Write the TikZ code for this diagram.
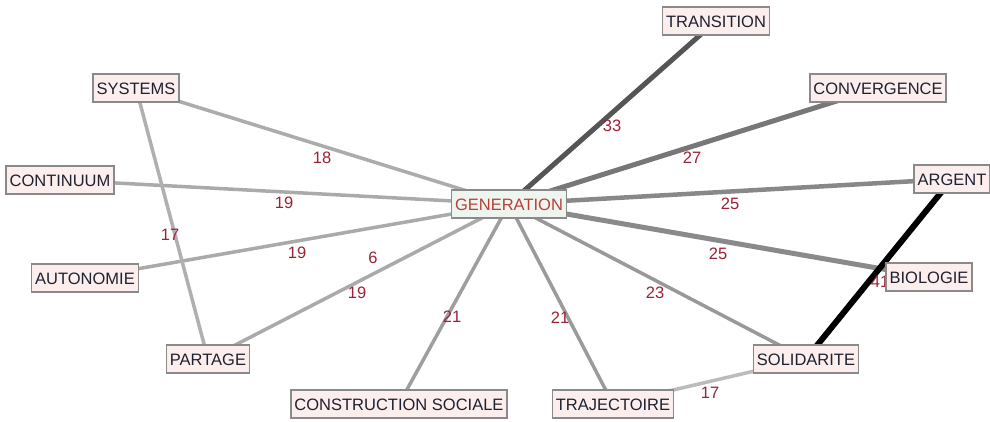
\documentclass[tikz,border=0pt]{standalone}
\usepackage{fontspec}
\setmainfont{Liberation Sans}
\usetikzlibrary{backgrounds}
\definecolor{nodefill}{HTML}{FDEEEE}
\definecolor{genfill}{HTML}{EEF5EE}
\definecolor{nodeborder}{HTML}{8A8A8A}
\definecolor{labred}{HTML}{9B2335}
\definecolor{gentext}{HTML}{B8403A}
\definecolor{nodetext}{HTML}{1E2230}
\tikzset{
  term/.style={draw=nodeborder, line width=1.4pt, fill=nodefill, text=nodetext,
    font=\fontsize{16.5}{19}\selectfont, inner xsep=3.5pt, inner ysep=0pt,
    minimum height=28pt, text height=12pt, text depth=0pt},
  center term/.style={term, fill=genfill, text=gentext},
  wlabel/.style={text=labred, font=\fontsize{16.5}{19}\selectfont, inner sep=0pt},
  link/.style={line width=#1},
}
\begin{document}
\begin{tikzpicture}[x=1pt,y=-1pt]
\useasboundingbox (0,0) rectangle (990,421);
\node[term] (transition) at (716,21) {TRANSITION};
\node[term] (systems) at (136,88) {SYSTEMS};
\node[term] (convergence) at (878,88) {CONVERGENCE};
\node[term] (continuum) at (60,180) {CONTINUUM};
\node[center term] (generation) at (509,204) {GENERATION};
\node[term] (argent) at (952,179) {ARGENT};
\node[term] (autonomie) at (85,278) {AUTONOMIE};
\node[term] (biologie) at (929,277) {BIOLOGIE};
\node[term] (partage) at (208,359) {PARTAGE};
\node[term] (solidarite) at (806,359) {SOLIDARITE};
\node[term] (construction) at (399,404) {CONSTRUCTION SOCIALE};
\node[term] (trajectoire) at (613,404) {TRAJECTOIRE};
\begin{scope}[on background layer]
\fill[white] (0,0) rectangle (990,421);
\draw[link=5pt, color={rgb,255:red,85;green,85;blue,85}] (generation.center) -- (transition.center);
\draw[link=5pt, color={rgb,255:red,119;green,119;blue,119}] (generation.center) -- (convergence.center);
\draw[link=4.5pt, color={rgb,255:red,136;green,136;blue,136}] (generation.center) -- (argent.center);
\draw[link=5pt, color={rgb,255:red,138;green,138;blue,138}] (generation.center) -- (biologie.center);
\draw[link=3.5pt, color={rgb,255:red,153;green,153;blue,153}] (generation.center) -- (solidarite.center);
\draw[link=3.5pt, color={rgb,255:red,155;green,155;blue,155}] (generation.center) -- (trajectoire.center);
\draw[link=3.5pt, color={rgb,255:red,158;green,158;blue,158}] (generation.center) -- (construction.center);
\draw[link=3.5pt, color={rgb,255:red,170;green,170;blue,170}] (generation.center) -- (partage.center);
\draw[link=3.5pt, color={rgb,255:red,170;green,170;blue,170}] (generation.center) -- (autonomie.center);
\draw[link=3.5pt, color={rgb,255:red,170;green,170;blue,170}] (generation.center) -- (continuum.center);
\draw[link=3.5pt, color={rgb,255:red,172;green,172;blue,172}] (generation.center) -- (systems.center);
\draw[link=3.5pt, color={rgb,255:red,176;green,176;blue,176}] (systems.center) -- (partage.center);
\draw[link=6pt, color=black] (argent.center) -- (solidarite.center);
\draw[link=3.5pt, color={rgb,255:red,187;green,187;blue,187}] (solidarite.center) -- (trajectoire.center);
\node[wlabel] (l33) at (612,126) {33};
\node[wlabel] (l27) at (692,158) {27};
\node[wlabel] (l25a) at (730,204) {25};
\node[wlabel] (l25b) at (718,254) {25};
\node[wlabel] (l23) at (655,293) {23};
\node[wlabel] (l21a) at (560,318) {21};
\node[wlabel] (l21b) at (452,317) {21};
\node[wlabel] (l19a) at (357,293) {19};
\node[wlabel] (l6) at (373,258) {6};
\node[wlabel] (l19b) at (297,253) {19};
\node[wlabel] (l19c) at (284,203) {19};
\node[wlabel] (l18) at (322,158) {18};
\node[wlabel] (l17a) at (170,235) {17};
\node[wlabel] (l41) at (880,282) {41};
\node[wlabel] (l17b) at (710,393) {17};
\end{scope}
\end{tikzpicture}
\end{document}
